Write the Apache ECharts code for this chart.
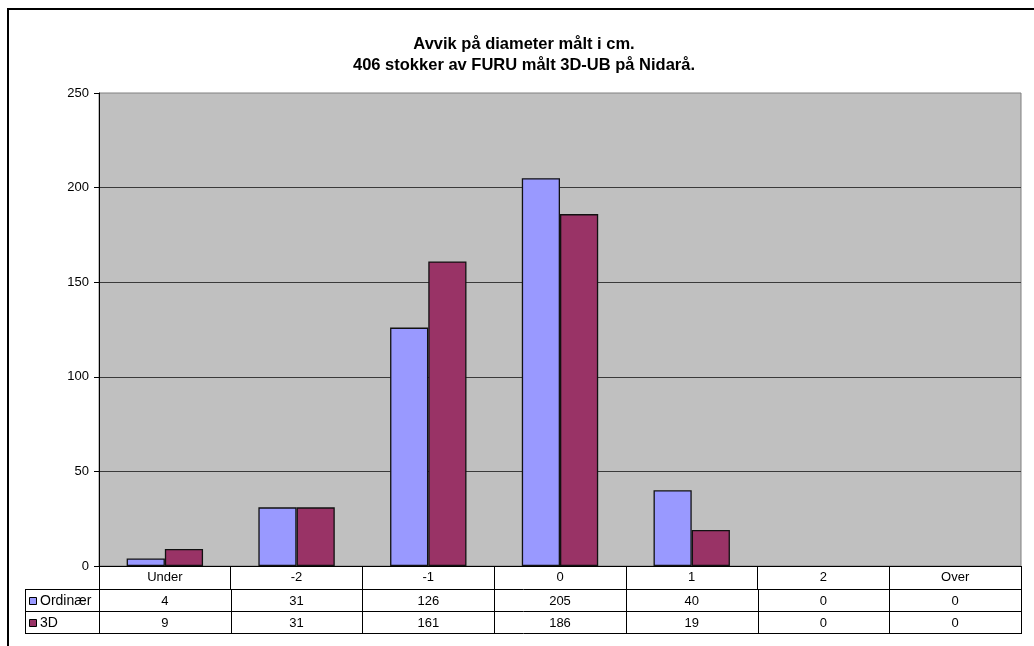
<!DOCTYPE html>
<html>
<head>
<meta charset="utf-8">
<script src="https://cdn.jsdelivr.net/npm/echarts@6/dist/echarts.min.js"></script>
<style>
  html, body { margin: 0; padding: 0; background: #fff; }
  #chart { width: 1034px; height: 646px; }
</style>
</head>
<body>
<div id="chart"></div>
<script>
// Deviation classes on the x axis
const categories = ['Under', '-2', '-1', '0', '1', '2', 'Over'];
// Series names and counts per class
const seriesNames = ['Ordinær', '3D'];
const ordinaer = [4, 31, 126, 205, 40, 0, 0];
const tredje = [9, 31, 161, 186, 19, 0, 0];
const seriesColors = ['#9999FF', '#993366'];
// Title lines
const titleLines = ['Avvik på diameter målt i cm.', '406 stokker av FURU målt 3D-UB på Nidarå.'];
// Value axis ticks
const yMin = 0, yMax = 250, yStep = 50;

const FONT = '"Liberation Sans", Arial, sans-serif';
const chart = echarts.init(document.getElementById('chart'), null, { renderer: 'canvas' });

// empty classes get no outline so they leave no sliver on the axis
const barData = vals => vals.map(v => (v === 0 ? { value: v, itemStyle: { borderWidth: 0 } } : v));

const base = {
  animation: false,
  backgroundColor: '#ffffff',
  title: {
    text: titleLines.join('\n'),
    left: 519,
    top: 29,
    textAlign: 'center',
    textStyle: { fontFamily: FONT, fontSize: 16.5, fontWeight: 'bold', color: '#000', lineHeight: 21 }
  },
  grid: {
    left: 99, top: 93, right: 13, bottom: 80,
    show: true, backgroundColor: '#C0C0C0', borderColor: '#808080', borderWidth: 1
  },
  xAxis: {
    type: 'category',
    data: categories,
    axisLine: { lineStyle: { color: '#000', width: 1 } },
    axisTick: { show: true, length: 23, lineStyle: { color: '#000' } },
    axisLabel: { fontFamily: FONT, fontSize: 13, color: '#000', margin: 5, interval: 0 },
    splitLine: { show: false }
  },
  yAxis: {
    type: 'value',
    min: yMin, max: yMax, interval: yStep,
    axisLine: { show: true, lineStyle: { color: '#000', width: 1 } },
    axisTick: { show: true, length: 5, lineStyle: { color: '#000' } },
    axisLabel: { fontFamily: FONT, fontSize: 13, color: '#000', margin: 10 },
    splitLine: { show: true, showMaxLine: false, lineStyle: { color: '#3a3a3a', width: 1 } }
  },
  series: [
    { name: seriesNames[0], type: 'bar', data: barData(ordinaer), barGap: '0%', barCategoryGap: '42%',
      itemStyle: { color: seriesColors[0], borderColor: '#111', borderWidth: 1.3 } },
    { name: seriesNames[1], type: 'bar', data: barData(tredje), barGap: '0%', barCategoryGap: '42%',
      itemStyle: { color: seriesColors[1], borderColor: '#111', borderWidth: 1.3 } }
  ]
};
chart.setOption(base);

// Data table below the category axis, positioned from the axis scale
const c0 = chart.convertToPixel({ xAxisIndex: 0 }, 0);
const c1 = chart.convertToPixel({ xAxisIndex: 0 }, 1);
const band = c1 - c0;
const yZero = Math.round(chart.convertToPixel({ yAxisIndex: 0 }, 0));
const rowH = 22;
const headerBottom = yZero + 23;
const tableLeft = 25;
const rightEdge = Math.round(c0 + band * (categories.length - 0.5));
const graphics = [];
const lineStyle = { stroke: '#000', lineWidth: 1 };
const px = v => Math.round(v) + 0.5;

// outer chart frame
graphics.push({ type: 'polyline', shape: { points: [[8, 646], [8, 9], [1034, 9]] },
  style: { stroke: '#000', lineWidth: 2, fill: null }, silent: true });

// horizontal rules
for (let r = 0; r <= 2; r++) {
  const y = px(headerBottom + r * rowH);
  graphics.push({ type: 'line', shape: { x1: tableLeft, y1: y, x2: rightEdge + 1, y2: y }, style: lineStyle, silent: true });
}
// left edge of legend column
graphics.push({ type: 'line', shape: { x1: tableLeft + 0.5, y1: headerBottom, x2: tableLeft + 0.5, y2: headerBottom + 2 * rowH }, style: lineStyle, silent: true });
// column separators
for (let i = 0; i <= categories.length; i++) {
  const x = px(c0 - band / 2 + i * band);
  graphics.push({ type: 'line', shape: { x1: x, y1: headerBottom, x2: x, y2: headerBottom + 2 * rowH }, style: lineStyle, silent: true });
}
// right edge in header row
graphics.push({ type: 'line', shape: { x1: px(rightEdge), y1: yZero, x2: px(rightEdge), y2: headerBottom }, style: lineStyle, silent: true });

const rows = [ordinaer, tredje];
rows.forEach((vals, r) => {
  const cy = headerBottom + r * rowH + rowH / 2 + 1;
  // legend key and name
  graphics.push({ type: 'rect', shape: { x: 29.5, y: Math.round(cy - 4) + 0.5, width: 7, height: 7 },
    style: { fill: seriesColors[r], stroke: '#000', lineWidth: 1 }, silent: true });
  graphics.push({ type: 'text', x: 40, y: cy, style: { text: seriesNames[r], fontFamily: FONT, fontSize: 14,
    fill: '#000', align: 'left', verticalAlign: 'middle' }, silent: true });
  vals.forEach((v, i) => {
    const cx = chart.convertToPixel({ xAxisIndex: 0 }, i);
    graphics.push({ type: 'text', x: cx, y: cy, style: { text: String(v), fontFamily: FONT, fontSize: 13,
      fill: '#000', align: 'center', verticalAlign: 'middle' }, silent: true });
  });
});

chart.setOption({ graphic: { elements: graphics } });
</script>
</body>
</html>
